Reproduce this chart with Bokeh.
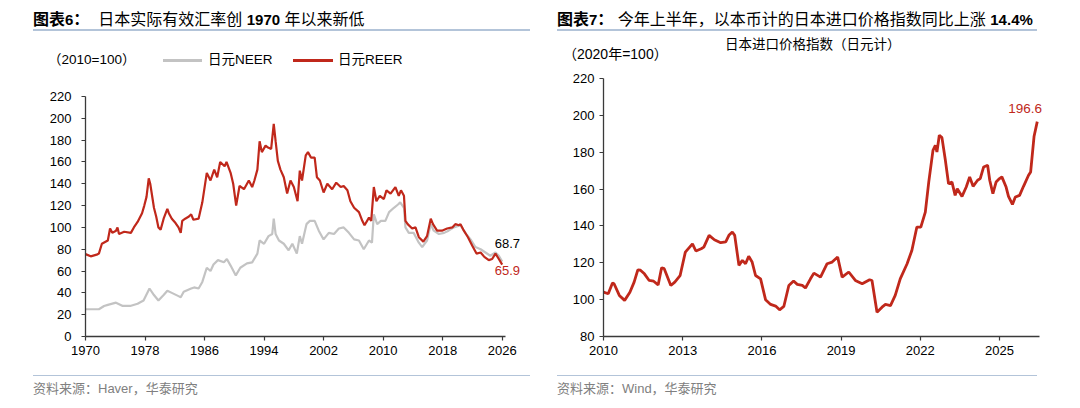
from bokeh.plotting import figure
from bokeh.models import (Range1d, FixedTicker, Label, Div)
from bokeh.layouts import row, column
from bokeh.embed import file_html
from bokeh.resources import INLINE

# ---------------- data: left chart (REER / NEER, 2010=100) ----------------
reer_year = [1970.0, 1970.7, 1971.5, 1971.8, 1972.2, 1973.0, 1973.3, 1973.6, 1974.1, 1974.3,
             1974.5, 1975.2, 1976.1, 1976.5, 1977.0, 1977.6, 1977.9, 1978.2, 1978.5, 1978.7,
             1979.2, 1979.5, 1979.8, 1980.1, 1980.5, 1981.0, 1981.2, 1981.6, 1982.1, 1982.5,
             1982.8, 1983.0, 1983.4, 1983.9, 1984.2, 1984.5, 1985.2, 1985.7, 1986.3, 1986.8,
             1987.3, 1987.7, 1988.1, 1988.7, 1988.95, 1989.5, 1989.85, 1990.25, 1990.7, 1991.3,
             1991.95, 1992.4, 1992.7, 1993.1, 1993.4, 1993.7, 1994.2, 1994.6, 1994.95, 1995.3,
             1995.55, 1995.85, 1996.2, 1996.65, 1997.1, 1997.55, 1998.0, 1998.5, 1998.8, 1999.1,
             1999.6, 1999.9, 2000.3, 2000.8, 2001.1, 2001.5, 2002.0, 2002.5, 2003.15, 2003.7,
             2004.3, 2004.7, 2005.2, 2005.6, 2006.1, 2006.75, 2007.2, 2007.5, 2008.1, 2008.4,
             2008.75, 2009.1, 2009.55, 2010.1, 2010.45, 2011.0, 2011.65, 2012.1, 2012.4, 2012.8,
             2013.0, 2013.3, 2013.9, 2014.35, 2014.8, 2015.4, 2015.9, 2016.4, 2016.7, 2017.25,
             2017.9, 2018.6, 2019.3, 2019.7, 2020.2, 2020.4, 2020.85, 2021.4, 2022.0, 2022.55,
             2023.1, 2023.6, 2024.2, 2024.65, 2025.1, 2025.55, 2026.0]
reer_val = [75.5, 73.5, 75, 76, 85, 88, 99, 95, 97, 100,
            94, 96, 95, 100, 105, 113, 120, 128, 145, 140,
            118, 110, 100, 98, 108, 117, 113, 108, 104, 100,
            95, 106, 108, 110, 112, 107, 108, 123, 150, 143,
            153, 146, 160, 156, 160, 150, 140, 120, 138, 135,
            143, 137, 143, 153, 179, 169, 175, 173, 172, 195,
            179, 161, 153, 146, 131, 143, 137, 124, 152, 143,
            166, 169, 164, 164, 146, 143, 132, 140, 135, 141,
            137, 138, 134, 124, 118, 114, 106, 102, 109, 106,
            137, 124, 129, 126, 134, 131, 137, 129, 134, 129,
            106, 103, 99, 100, 91, 87, 92, 108, 103, 97,
            97, 99, 100, 103, 102, 103, 97, 91, 83, 76,
            77, 73, 70, 71, 76, 71, 65.9]

neer_year = [1970.0, 1971.8, 1972.5, 1973.0, 1974.1, 1975.0, 1976.0, 1977.0, 1977.8, 1978.6,
             1979.2, 1979.8, 1980.5, 1981.0, 1981.6, 1982.5, 1982.8, 1983.2, 1984.2, 1984.6,
             1985.2, 1985.7, 1986.3, 1986.8, 1987.2, 1987.8, 1988.6, 1989.0, 1989.5, 1990.2,
             1990.8, 1991.7, 1992.4, 1993.1, 1993.4, 1994.0, 1994.6, 1995.1, 1995.3, 1995.55,
             1996.0, 1996.65, 1997.3, 1997.8, 1998.4, 1998.8, 1999.1, 1999.7, 2000.15, 2000.8,
             2001.35, 2002.0, 2002.7, 2003.4, 2004.05, 2004.7, 2005.4, 2006.1, 2006.75, 2007.4,
             2008.1, 2008.5, 2008.75, 2009.2, 2009.7, 2010.3, 2010.8, 2011.45, 2012.0, 2012.3,
             2012.8, 2013.0, 2013.45, 2014.1, 2014.8, 2015.25, 2015.9, 2016.4, 2016.8, 2017.5,
             2018.2, 2018.8, 2019.5, 2020.4, 2021.05, 2021.75, 2022.4, 2023.1, 2023.75, 2024.4,
             2025.1, 2025.55, 2026.0]
neer_val = [25, 25, 28, 29, 31, 28, 28, 30, 33, 44,
            38, 33, 38, 42, 40, 37, 36, 41, 44, 45,
            44, 50, 63, 60, 66, 70, 68, 71, 65, 56,
            63, 67, 68, 76, 88, 85, 92, 94, 108, 94,
            88, 85, 79, 85, 76, 92, 85, 103, 106, 106,
            97, 89, 95, 94, 99, 100, 95, 89, 88, 80,
            88, 86, 112, 103, 106, 106, 114, 118, 121, 123,
            118, 100, 95, 95, 86, 82, 88, 103, 97, 94,
            95, 97, 100, 102, 95, 89, 82, 80, 77, 74,
            77, 74, 68.7]

left_xticks = [1970, 1978, 1986, 1994, 2002, 2010, 2018, 2026]
left_yticks = [0, 20, 40, 60, 80, 100, 120, 140, 160, 180, 200, 220]

# ---------------- data: right chart (import price index, JPY, 2020=100) ----------------
imp_year = [2010.0, 2010.18, 2010.34, 2010.4, 2010.6, 2010.8, 2011.0, 2011.16, 2011.3, 2011.4,
            2011.55, 2011.73, 2011.9, 2012.07, 2012.2, 2012.3, 2012.55, 2012.7, 2012.9, 2013.1,
            2013.37, 2013.5, 2013.7, 2013.8, 2014.0, 2014.2, 2014.44, 2014.63, 2014.75, 2014.88,
            2014.97, 2015.13, 2015.26, 2015.38, 2015.5, 2015.63, 2015.76, 2015.95, 2016.14, 2016.33,
            2016.52, 2016.67, 2016.83, 2017.02, 2017.2, 2017.34, 2017.53, 2017.65, 2017.84, 2017.97,
            2018.22, 2018.47, 2018.66, 2018.87, 2019.04, 2019.29, 2019.54, 2019.8, 2020.08, 2020.17,
            2020.36, 2020.55, 2020.68, 2020.87, 2021.05, 2021.24, 2021.5, 2021.68, 2021.87, 2022.02,
            2022.19, 2022.32, 2022.48, 2022.57, 2022.63, 2022.72, 2022.82, 2022.95, 2023.07, 2023.2,
            2023.32, 2023.4, 2023.58, 2023.74, 2023.87, 2024.0, 2024.17, 2024.27, 2024.4, 2024.55,
            2024.63, 2024.75, 2024.87, 2025.0, 2025.09, 2025.25, 2025.34, 2025.49, 2025.6, 2025.76,
            2025.91, 2026.1, 2026.18, 2026.31, 2026.43]
imp_val = [104.1, 103.2, 109.0, 108.6, 102.3, 99.6, 104.0, 109.5, 116.2, 116.0,
           114.0, 110.4, 110.0, 108.0, 117.3, 116.8, 107.7, 109.5, 113.0, 125.8,
           130.3, 126.4, 127.6, 128.5, 134.9, 132.5, 130.9, 131.3, 134.9, 136.7,
           134.9, 118.6, 121.3, 119.5, 123.5, 120.4, 113.1, 111.3, 99.9, 97.4,
           96.5, 94.5, 96.3, 107.7, 110.1, 108.3, 107.7, 106.3, 111.3, 114.4,
           112.2, 119.5, 120.4, 123.1, 112.2, 115.0, 110.4, 108.6, 110.8, 110.4,
           93.2, 95.9, 97.4, 96.8, 102.3, 111.3, 119.5, 126.7, 139.4, 139.4,
           147.5, 163.8, 181.0, 183.8, 180.1, 189.2, 187.9, 175.6, 162.9, 163.8,
           156.6, 160.2, 156.0, 161.1, 166.6, 161.5, 164.8, 165.7, 172.0, 172.9,
           164.8, 157.5, 163.8, 165.7, 166.6, 161.1, 156.0, 151.7, 155.7, 156.6,
           161.5, 167.5, 169.3, 188.7, 196.6]

right_xticks = [2010, 2013, 2016, 2019, 2022, 2025]
right_yticks = [80, 100, 120, 140, 160, 180, 200, 220]

RED = "#c0281b"
GRAY = "#c3c3c3"
AXIS = "#3a3a3a"
RULE = "#b3c4d9"
NUMF = "Liberation Sans"
CJK = "'Liberation Sans', 'Noto Sans CJK SC', sans-serif"


def style_axes(p, xticks, yticks, ystandoff, xbounds, ybounds):
    p.xgrid.visible = False
    p.ygrid.visible = False
    p.outline_line_color = None
    p.background_fill_color = None
    p.border_fill_color = None
    p.xaxis.ticker = FixedTicker(ticks=xticks)
    p.yaxis.ticker = FixedTicker(ticks=yticks)
    p.xaxis.bounds = xbounds
    p.yaxis.bounds = ybounds
    for ax in (p.xaxis, p.yaxis):
        ax.axis_line_color = AXIS
        ax.axis_line_width = 1.3
        ax.major_tick_line_color = AXIS
        ax.major_tick_line_width = 1.2
        ax.major_tick_in = 0
        ax.major_tick_out = 4
        ax.minor_tick_line_color = None
        ax.major_label_text_font = NUMF
        ax.major_label_text_font_size = "13px"
        ax.major_label_text_color = "#000000"
    p.xaxis.major_label_standoff = 5
    p.yaxis.major_label_standoff = ystandoff


def txt(left, top, html, size=13, color="#000"):
    return (f'<div style="position:absolute;left:{left}px;top:{top}px;height:16px;line-height:16px;'
            f'font-family:{CJK};font-size:{size}px;color:{color};white-space:nowrap;">{html}</div>')


def swatch(left, top, w, color):
    return (f'<div style="position:absolute;left:{left}px;top:{top}px;width:{w}px;height:2.5px;'
            f'background:{color};"></div>')


def head_div(title_html, left, w, h, extras):
    html = (f'<div style="position:relative;width:532px;height:{h}px;">'
            f'<div style="position:absolute;left:{left}px;top:1px;width:{w}px;height:22px;line-height:22px;'
            f'white-space:nowrap;border-bottom:2px solid {RULE};font-family:{CJK};font-size:16px;color:#000;">'
            f'{title_html}</div>' + "".join(extras) + '</div>')
    return Div(text=html, width=532, height=h, margin=(0, 0, 0, 0))


def source_div(t, left, w):
    html = (f'<div style="position:relative;width:532px;height:32px;">'
            f'<div style="position:absolute;left:{left}px;top:7px;width:{w}px;border-top:1.5px solid {RULE};'
            f'padding-top:4px;font-family:{CJK};font-size:13px;line-height:17px;color:#808080;white-space:nowrap;">'
            f'{t}</div></div>')
    return Div(text=html, width=532, height=32, margin=(0, 0, 0, 0))


def num(s):
    return f'<b style="font-size:15px;">{s}</b>'


# ---------------- left figure ----------------
p1 = figure(width=532, height=292, x_range=Range1d(1970, 2029), y_range=Range1d(0, 220),
            output_backend="svg", toolbar_location=None,
            min_border_left=77, min_border_right=16, min_border_top=20, min_border_bottom=32)
style_axes(p1, left_xticks, left_yticks, 10, (1970, 2026.5), (0, 220))
p1.line(neer_year, neer_val, line_color=GRAY, line_width=2.2)
p1.line(reer_year, reer_val, line_color=RED, line_width=2.2)
p1.add_layout(Label(x=2025.0, y=85.2, text="68.7", text_font=NUMF, text_font_size="13px",
                    text_baseline="middle", text_align="left", text_color="#000000"))
p1.add_layout(Label(x=2025.0, y=60.5, text="65.9", text_font=NUMF, text_font_size="13px",
                    text_baseline="middle", text_align="left", text_color=RED))

# ---------------- right figure ----------------
p2 = figure(width=532, height=302, x_range=Range1d(2010, 2027.5), y_range=Range1d(80, 220),
            output_backend="svg", toolbar_location=None,
            min_border_left=63, min_border_right=7, min_border_top=12, min_border_bottom=32)
style_axes(p2, right_xticks, right_yticks, 5, (2010, 2026.5), (80, 220))
p2.line(imp_year, imp_val, line_color=RED, line_width=2.8)
p2.add_layout(Label(x=2025.33, y=203.7, text="196.6", text_font=NUMF, text_font_size="13.5px",
                    text_baseline="middle", text_align="left", text_color=RED))

# ---------------- titles, legend row, sources ----------------
t1 = head_div('<b>图表' + num('6') + '：</b>&nbsp;&nbsp;日本实际有效汇率创 ' + num('1970') + ' 年以来新低',
              25, 497, 68,
              [txt(40, 44, '（2010=100）', size=13.5),
               swatch(155, 51, 39, GRAY), txt(200, 44, '日元NEER', size=13.5),
               swatch(285, 51, 40, RED), txt(330, 44, '日元REER', size=13.5)])
t2 = head_div('<b>图表' + num('7') + '：</b>&nbsp;今年上半年，以本币计的日本进口价格指数同比上涨 ' + num('14.4%'),
              17, 480, 58,
              [txt(23, 38, '（2020年=100）', size=14),
               txt(185, 29, '日本进口价格指数（日元计）', size=13.5)])
s1 = source_div('资料来源：Haver，华泰研究', 25, 497)
s2 = source_div('资料来源：Wind，华泰研究', 17, 480)

layout = row(column(t1, p1, s1, spacing=0), column(t2, p2, s2, spacing=0), spacing=0,
             margin=(8, 0, 0, 8))

open("out.html", "w").write(file_html(layout, INLINE))
